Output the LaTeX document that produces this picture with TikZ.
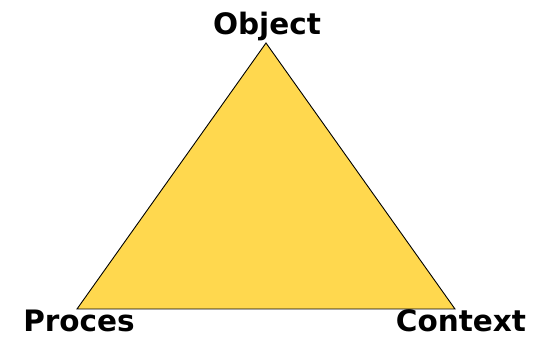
\documentclass[tikz,border=0pt]{standalone}
\usepackage{fontspec}
\setmainfont{DejaVu Sans}
\definecolor{triyellow}{HTML}{FFD84E}
\begin{document}
\begin{tikzpicture}[x=1pt,y=-1pt,
  lbl/.style={font=\bfseries\fontsize{29.5}{34}\selectfont, text=black, inner sep=0pt, anchor=base},
  tri/.style={draw=black, line width=0.9pt, fill=triyellow, line join=miter}]
\useasboundingbox (0,0) rectangle (544,339);
\coordinate (apex) at (266,43);
\coordinate (bl) at (77,309);
\coordinate (br) at (455,309);
\path[tri] (apex) -- (bl) -- (br) -- cycle;
\node[lbl] (object) at (267,35) {Object};
\node[lbl] (proces) at (79,331) {Proces};
\node[lbl] (context) at (461,331) {Context};
\end{tikzpicture}
\end{document}
